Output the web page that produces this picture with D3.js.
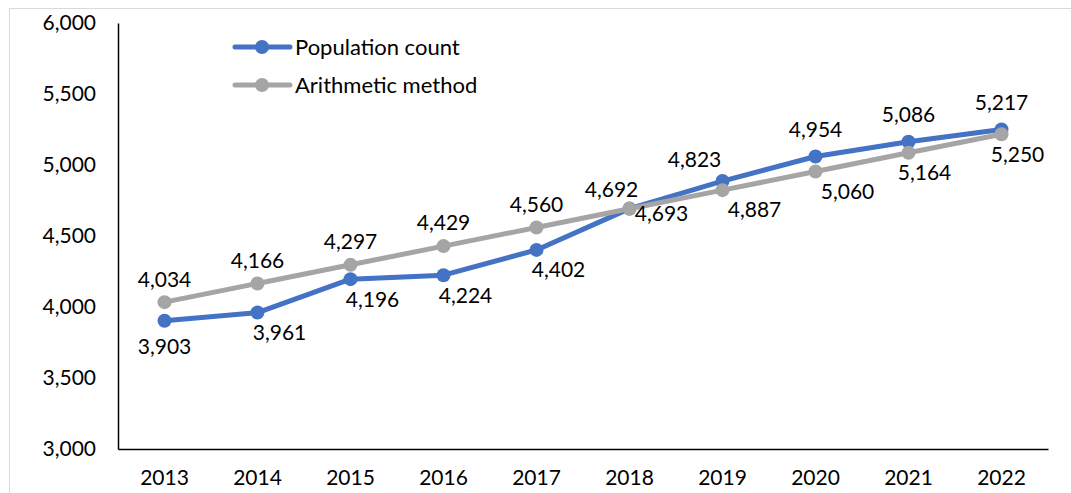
<!DOCTYPE html>
<html lang="en">
<head>
    <meta charset="UTF-8">
    <title>Population count vs arithmetic method</title>
    <script src="https://d3js.org/d3.v7.min.js"></script>
    <style>
        body { margin: 0; background: #fff; }
        text { font-family: Lato, "Open Sans", sans-serif; font-size: 21px; fill: #000; }
        .line { fill: none; stroke-width: 5px; stroke-linejoin: round; stroke-linecap: round; }
    </style>
</head>
<body>
    <script>
        // values
        var years = [2013, 2014, 2015, 2016, 2017, 2018, 2019, 2020, 2021, 2022];
        var populationCount = [3903, 3961, 4196, 4224, 4402, 4693, 4887, 5060, 5164, 5250];
        var arithmeticMethod = [4034, 4166, 4297, 4429, 4560, 4692, 4823, 4954, 5086, 5217];
        var yTicks = [3000, 3500, 4000, 4500, 5000, 5500, 6000];

        var width = 1071,
            height = 493;

        var svg = d3.select("body").append("svg")
            .attr("width", width)
            .attr("height", height);

        // light chart-area border
        svg.append("rect")
            .attr("x", 9.5).attr("y", 8.5)
            .attr("width", width + 20).attr("height", height + 20)
            .attr("fill", "none")
            .attr("stroke", "#d9d9d9");

        var x = d3.scaleBand()
            .domain(years)
            .range([118, 1048]);

        var y = d3.scaleLinear()
            .domain([3000, 6000])
            .range([449, 23]);

        var fmt = d3.format(",");

        // axes
        var yAxis = svg.append("g")
            .attr("transform", "translate(118,0)")
            .call(d3.axisLeft(y).tickValues(yTicks).tickSize(0).tickPadding(22).tickFormat(fmt));
        yAxis.select(".domain").attr("stroke", "#000").attr("stroke-width", 1.5);
        yAxis.selectAll("text").style("font-size", "21px").attr("fill", "#000");

        var xAxis = svg.append("g")
            .attr("transform", "translate(0,449)")
            .call(d3.axisBottom(x).tickSize(0).tickPadding(21));
        xAxis.select(".domain").attr("stroke", "#000").attr("stroke-width", 1.5);
        xAxis.selectAll("text").style("font-size", "21px").attr("fill", "#000");

        var series = [
            { name: "Population count", values: populationCount, color: "#4472C4" },
            { name: "Arithmetic method", values: arithmeticMethod, color: "#A5A5A5" }
        ];

        var cx = function(i) { return x(years[i]) + x.bandwidth() / 2; };

        var line = d3.line()
            .x(function(d, i) { return cx(i); })
            .y(function(d) { return y(d); });

        series.forEach(function(s) {
            svg.append("path")
                .datum(s.values)
                .attr("class", "line")
                .attr("stroke", s.color)
                .attr("d", line);

            svg.selectAll(null)
                .data(s.values)
                .enter().append("circle")
                .attr("cx", function(d, i) { return cx(i); })
                .attr("cy", function(d) { return y(d); })
                .attr("r", 7)
                .attr("fill", s.color);
        });

        // data labels: arithmetic above the pair, population count below-right of it
        years.forEach(function(yr, i) {
            var p = populationCount[i], a = arithmeticMethod[i];
            var top = y(Math.max(p, a)), bottom = y(Math.min(p, a));
            var diff = p - a;
            var gx = cx(i), gy = top - 23;
            var bx = cx(i) + (i === 0 ? 0 : 22), by = bottom + (i === 0 ? 26 : 20);
            if (Math.abs(diff) < 10) {
                gx = cx(i) - 18; gy = top - 19;
                bx = cx(i) + 32; by = bottom + 5;
            } else if (diff > 0) {
                gy = top - 27;
                bx = cx(i) + (diff < 50 || (diff > 70 && diff < 100) ? 16 : 32);
                by = bottom + 20;
                if (diff > 50 && diff < 70) { gx = cx(i) - 28; gy = top - 21; }
            }
            svg.append("text")
                .attr("x", gx).attr("y", gy).attr("dy", "0.35em")
                .attr("text-anchor", "middle")
                .text(fmt(a));
            svg.append("text")
                .attr("x", bx).attr("y", by).attr("dy", "0.35em")
                .attr("text-anchor", "middle")
                .text(fmt(p));
        });

        // legend
        var legend = svg.append("g");
        series.forEach(function(s, i) {
            var ly = 47 + i * 38;
            legend.append("line")
                .attr("x1", 235).attr("x2", 290)
                .attr("y1", ly).attr("y2", ly)
                .attr("stroke", s.color)
                .attr("stroke-width", 5)
                .attr("stroke-linecap", "round");
            legend.append("circle")
                .attr("cx", 262).attr("cy", ly).attr("r", 7)
                .attr("fill", s.color);
            legend.append("text")
                .attr("x", 295).attr("y", ly).attr("dy", "0.35em")
                .style("font-size", "22px")
                .text(s.name);
        });
    </script>
</body>
</html>
